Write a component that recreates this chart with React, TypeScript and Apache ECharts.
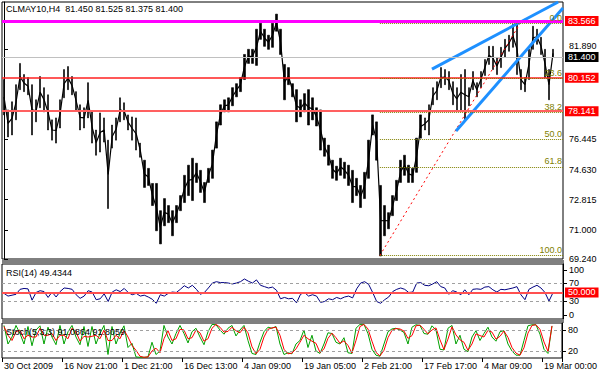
import React, { useEffect, useRef } from 'react';
import * as echarts from 'echarts';

const FONT = "'Liberation Sans', Arial, sans-serif";

// ---------- data ----------
const timeLabels = ['30 Oct 2009', '16 Nov 21:00', '1 Dec 21:00', '16 Dec 13:00', '4 Jan 09:00',
  '19 Jan 05:00', '2 Feb 21:00', '17 Feb 17:00', '4 Mar 09:00', '19 Mar 00:00'];
const LABEL_STEP = 15;
const SLOTS = 140;

const highs = [
  80.05, 78.22, 78.71, 79.74, 81.02, 80.35, 80.17, 79.74, 78.83, 80.23,
  79.56, 79.13, 77.62, 77.74, 78.83, 80.65, 80.83, 80.23, 79.32, 78.53,
  78.35, 79.86, 78.10, 77.01, 78.04, 77.74, 76.40, 77.31, 77.74, 78.95,
  78.65, 77.92, 77.80, 77.74, 76.22, 75.19, 74.70, 73.79, 73.79, 72.15,
  72.88, 72.46, 72.15, 72.46, 73.06, 74.28, 74.89, 75.31, 75.01, 74.58,
  73.85, 74.70, 75.80, 77.50, 78.53, 78.83, 78.95, 79.56, 79.80, 80.17,
  81.56, 81.87, 81.87, 83.08, 83.44, 83.08, 82.72, 83.44, 83.99, 83.08,
  80.96, 80.77, 79.80, 79.44, 78.83, 79.20, 79.44, 78.95, 78.35, 78.22,
  76.52, 76.10, 75.19, 74.83, 75.31, 75.07, 74.89, 74.58, 74.10, 73.67,
  74.46, 76.40, 77.92, 77.50, 73.67, 72.46, 72.03, 73.06, 73.98, 75.19,
  75.49, 74.89, 74.70, 76.52, 77.92, 77.74, 78.53, 79.56, 79.92, 80.77,
  80.65, 80.53, 79.92, 79.56, 80.35, 80.65, 79.56, 80.53, 79.86, 80.53,
  81.26, 82.05, 82.05, 81.38, 81.99, 82.47, 82.72, 83.38, 83.44, 80.65,
  80.17, 81.87, 83.26, 83.08, 82.59, 81.87, 80.65, 81.87,
];
const lows = [
  77.92, 76.59, 76.71, 77.62, 79.44, 79.32, 79.13, 76.71, 77.50, 78.35,
  78.10, 77.01, 76.40, 76.22, 77.13, 78.95, 79.44, 79.13, 78.22, 77.01,
  77.13, 77.74, 76.22, 75.49, 75.68, 76.28, 72.28, 75.92, 76.40, 77.50,
  77.62, 77.01, 76.40, 75.80, 75.37, 73.55, 73.67, 72.46, 70.94, 70.15,
  71.24, 71.43, 70.64, 71.43, 72.15, 72.64, 73.06, 72.76, 73.85, 73.25,
  72.64, 73.85, 74.10, 75.92, 77.31, 78.10, 78.10, 78.47, 79.01, 79.32,
  80.05, 81.02, 81.02, 80.90, 82.47, 82.05, 81.87, 81.99, 82.96, 81.56,
  78.83, 79.74, 79.01, 77.50, 77.80, 78.10, 77.31, 77.62, 77.25, 75.80,
  75.43, 74.89, 74.10, 73.98, 74.28, 74.10, 73.67, 72.64, 73.06, 72.34,
  72.88, 74.10, 76.71, 75.19, 69.42, 70.64, 71.06, 71.85, 72.76, 73.85,
  74.28, 73.85, 73.85, 74.46, 76.52, 77.01, 76.71, 78.53, 78.83, 79.56,
  79.74, 79.44, 78.53, 78.22, 78.22, 77.62, 78.47, 79.44, 79.01, 79.56,
  80.29, 80.96, 80.65, 80.35, 80.77, 81.38, 81.75, 81.99, 80.35, 79.44,
  79.32, 80.05, 81.87, 82.17, 81.56, 80.17, 78.83, 81.38,
];

const rsi = [
  48, 42, 44, 46, 57, 59, 58, 33, 50, 54,
  52, 39, 51, 40, 52, 60, 59, 57, 45, 37,
  42, 54, 51, 34, 36, 47, 30, 51, 56, 52,
  59, 50, 45, 48, 42, 44, 40, 35, 26, 45,
  42, 48, 51, 50, 57, 65, 60, 66, 57, 46,
  50, 60, 71, 74, 72, 72, 71, 69, 71, 74,
  80, 75, 71, 78, 66, 63, 60, 62, 55, 36,
  39, 36, 37, 27, 46, 50, 42, 45, 42, 28,
  30, 36, 34, 39, 36, 40, 42, 38, 58, 71,
  74, 68, 50, 30, 26, 34, 40, 52, 57, 60,
  57, 50, 51, 71, 72, 66, 65, 69, 74, 63,
  60, 46, 54, 51, 45, 56, 45, 57, 58, 57,
  62, 63, 56, 51, 57, 56, 58, 60, 63, 45,
  34, 57, 62, 66, 60, 50, 31, 49.43,
];

const stochMain = [
  93, 40, 60, 93, 70, 40, 90, 35, 80, 92,
  40, 88, 60, 38, 93, 40, 75, 93, 60, 38,
  90, 33, 90, 40, 70, 93, 10, 90, 40, 70,
  92, 30, 42, 3, 2, 2, 3, 45, 10, 20,
  93, 60, 40, 70, 93, 70, 43, 75, 85, 60,
  38, 75, 96, 95, 80, 68, 85, 93, 63, 80,
  93, 50, 13, 10, 45, 75, 88, 85, 90, 40,
  10, 15, 12, 40, 50, 80, 30, 65, 20, 13,
  40, 72, 70, 45, 40, 58, 15, 13, 85, 96,
  96, 70, 25, 8, 5, 40, 75, 83, 85, 80,
  73, 40, 88, 95, 93, 70, 68, 92, 80, 25,
  23, 85, 93, 40, 65, 25, 18, 60, 78, 50,
  70, 88, 60, 48, 75, 78, 40, 20, 8, 8,
  50, 92, 95, 95, 68, 25, 13, 91.09,
];
const stochSignal = [
  90, 65, 50, 75, 80, 55, 65, 60, 60, 85,
  65, 65, 70, 50, 65, 65, 55, 85, 75, 48,
  62, 60, 62, 65, 55, 80, 50, 50, 65, 55,
  80, 60, 36, 22, 5, 2, 3, 20, 28, 15,
  55, 78, 50, 55, 82, 80, 55, 58, 80, 72,
  48, 55, 85, 96, 88, 74, 76, 88, 78, 72,
  88, 72, 32, 12, 25, 60, 82, 86, 88, 65,
  25, 12, 14, 26, 45, 65, 55, 48, 42, 16,
  26, 56, 71, 58, 42, 49, 36, 14, 50, 90,
  96, 83, 48, 16, 6, 22, 58, 79, 84, 83,
  77, 56, 64, 92, 94, 82, 69, 80, 86, 52,
  24, 54, 89, 66, 52, 45, 22, 40, 69, 64,
  60, 79, 74, 54, 62, 77, 59, 30, 14, 8,
  29, 71, 93, 95, 82, 46, 19, 91.81,
];

const priceTicks = [69.24, 71.0, 72.815, 74.63, 76.445, 81.89];
const rsiTicks = [0, 30, 70, 100];
const stochTicks = [20, 80, 100];

const resistanceLevel = 83.566;
const bidLevel = 81.4;
const supportUpper = 80.152;
const supportLower = 78.141;

const fibHigh = 83.43;
const fibLow = 69.45;
const fibRatios = [0, 23.6, 38.2, 50, 61.8, 100];
const fibStartBar = 93.8;
const fibHighBar = 128.8;

const upperTrend = [[106.8, 80.68], [138.3, 84.72]];
const lowerTrend = [[112.8, 76.95], [139.5, 84.36]];

// ---------- option ----------
const categories = Array.from({ length: SLOTS }, (_, i) => String(i));
const labelAt = (i: number) => (i % LABEL_STEP === 0 ? timeLabels[i / LABEL_STEP] || '' : '');

const boxLabel = (text: string, bg: string) => ({
  show: true, position: 'end', formatter: text, backgroundColor: bg, color: '#fff',
  padding: [1, 3, 0, 3], fontSize: 9, fontFamily: FONT, distance: 2,
});

const GRID_LEFT = 2;
const GRID_W = 561;

const option: any = {
  animation: false,
  backgroundColor: '#fff',
  textStyle: { fontFamily: FONT },
  title: [
    { text: 'CLMAY10,H4  81.450 81.525 81.375 81.400', left: 6, top: 4, padding: 0,
      textStyle: { fontSize: 9, fontWeight: 'normal', color: '#000', fontFamily: FONT } },
    { text: 'RSI(14) 49.4344', left: 6, top: 268, padding: 0,
      textStyle: { fontSize: 9, fontWeight: 'normal', color: '#000', fontFamily: FONT } },
    { text: 'Stoch(5,3,3) 91.0864 91.8059', left: 6, top: 327, padding: 0,
      textStyle: { fontSize: 9, fontWeight: 'normal', color: '#000', fontFamily: FONT } },
  ],
  grid: [
    { left: GRID_LEFT, top: 2, width: GRID_W, height: 257, show: true, borderColor: '#000', borderWidth: 1 },
    { left: GRID_LEFT, top: 264, width: GRID_W, height: 55, show: true, borderColor: '#000', borderWidth: 1 },
    { left: GRID_LEFT, top: 323, width: GRID_W, height: 35, show: true, borderColor: '#000', borderWidth: 1 },
  ],
  graphic: [
    { type: 'rect', shape: { x: GRID_LEFT, y: 260, width: GRID_W + 1, height: 4 }, style: { fill: '#808080' }, silent: true },
    { type: 'rect', shape: { x: GRID_LEFT, y: 319.5, width: GRID_W + 1, height: 3.5 }, style: { fill: '#808080' }, silent: true },
  ],
  xAxis: [
    { type: 'category', gridIndex: 0, data: categories, boundaryGap: true, show: false },
    { type: 'value', gridIndex: 0, min: -0.5, max: SLOTS - 0.5, show: false },
    { type: 'category', gridIndex: 1, data: categories, boundaryGap: true, show: false },
    {
      type: 'category', gridIndex: 2, data: categories, boundaryGap: true,
      axisLine: { show: false },
      axisTick: { show: true, interval: LABEL_STEP - 1, length: 4, lineStyle: { color: '#000' } },
      axisLabel: {
        interval: LABEL_STEP - 1, formatter: (_v: string, i: number) => labelAt(i),
        align: 'left', fontSize: 9, color: '#000', margin: 3, fontFamily: FONT,
      },
    },
  ],
  yAxis: [
    {
      type: 'value', gridIndex: 0, position: 'right', min: 69.24, max: 84.72, scale: true,
      splitLine: { show: false },
      axisLine: { show: true, lineStyle: { color: '#000' } },
      axisTick: { show: true, length: 4, customValues: priceTicks, lineStyle: { color: '#000' } },
      axisLabel: {
        customValues: priceTicks,
        formatter: (v: number) => (v > 81 ? '{up|' + v.toFixed(3) + '}' : v.toFixed(3)),
        rich: { up: { fontSize: 9, color: '#000', padding: [0, 0, 5, 0], fontFamily: FONT } },
        fontSize: 9, color: '#000', margin: 6, fontFamily: FONT,
      },
    },
    {
      type: 'value', gridIndex: 1, position: 'right', min: -8.9, max: 113.3,
      splitLine: { show: false },
      axisLine: { show: true, lineStyle: { color: '#000' } },
      axisTick: { show: true, length: 4, customValues: rsiTicks, lineStyle: { color: '#000' } },
      axisLabel: { customValues: rsiTicks, formatter: (v: number) => String(v), fontSize: 9, color: '#000', margin: 6, fontFamily: FONT },
    },
    {
      type: 'value', gridIndex: 2, position: 'right', min: 0, max: 100,
      splitLine: { show: false },
      axisLine: { show: true, lineStyle: { color: '#000' } },
      axisTick: { show: true, length: 4, customValues: stochTicks, lineStyle: { color: '#000' } },
      axisLabel: { customValues: stochTicks, formatter: (v: number) => String(v), fontSize: 9, color: '#000', margin: 6, fontFamily: FONT },
    },
  ],
  series: [
    {
      type: 'line', xAxisIndex: 0, yAxisIndex: 0, symbol: 'none', z: 2,
      data: highs.map((h, i) => (h + lows[i]) / 2),
      lineStyle: { color: '#000', width: 1.2 },
    },
    {
      type: 'candlestick', xAxisIndex: 0, yAxisIndex: 0, barWidth: 2, z: 2,
      data: highs.map((h, i) => [lows[i], h, lows[i], h]),
      itemStyle: { color: '#000', color0: '#000', borderColor: '#000', borderColor0: '#000', borderWidth: 0.6 },
      markLine: {
        silent: true, symbol: ['none', 'none'], animation: false,
        data: [
          { yAxis: bidLevel, lineStyle: { color: '#C0C0C0', width: 1, type: 'solid' }, label: boxLabel(bidLevel.toFixed(3), '#000') },
          { yAxis: supportUpper, lineStyle: { color: '#FF2020', width: 1.5, type: 'solid' }, label: boxLabel(supportUpper.toFixed(3), '#FF0000') },
          { yAxis: supportLower, lineStyle: { color: '#FF6060', width: 2, type: 'solid' }, label: boxLabel(supportLower.toFixed(3), '#FF0000') },
          { yAxis: resistanceLevel, lineStyle: { color: '#FF00FF', width: 3, type: 'solid' }, label: boxLabel(resistanceLevel.toFixed(3), '#FF0000') },
        ],
      },
    },
    {
      type: 'line', xAxisIndex: 1, yAxisIndex: 0, symbol: 'none', z: 3,
      data: [[fibStartBar, fibLow], [fibHighBar, fibHigh]],
      lineStyle: { color: '#FF0000', width: 1, type: [2, 3] },
      markLine: {
        silent: true, symbol: ['none', 'none'], animation: false,
        lineStyle: { color: '#808000', width: 1, type: [1, 1] },
        label: { show: true, position: 'insideEndTop', color: '#808000', fontSize: 9, fontFamily: FONT, distance: 1 },
        data: fibRatios.map((r) => {
          const p = fibHigh - (r / 100) * (fibHigh - fibLow);
          return [
            { coord: [fibStartBar, p], label: { formatter: r.toFixed(1) } },
            { coord: [SLOTS - 0.5, p] },
          ];
        }),
      },
    },
    {
      type: 'line', xAxisIndex: 1, yAxisIndex: 0, symbol: 'none', data: upperTrend, z: 4,
      lineStyle: { color: '#1E90FF', width: 3 },
    },
    {
      type: 'line', xAxisIndex: 1, yAxisIndex: 0, symbol: 'none', data: lowerTrend, z: 4,
      lineStyle: { color: '#1E90FF', width: 3 },
    },
    {
      type: 'line', xAxisIndex: 2, yAxisIndex: 1, symbol: 'none', data: rsi,
      lineStyle: { color: '#000080', width: 1 },
      markLine: {
        silent: true, symbol: ['none', 'none'], animation: false,
        data: [
          { yAxis: 70, lineStyle: { color: '#A0A0A0', width: 1, type: [3, 3] }, label: { show: false } },
          { yAxis: 30, lineStyle: { color: '#A0A0A0', width: 1, type: [3, 3] }, label: { show: false } },
          { yAxis: 50, lineStyle: { color: '#FF5050', width: 2, type: 'solid' }, label: boxLabel('50.000', '#FF0000') },
        ],
      },
    },
    {
      type: 'line', xAxisIndex: 3, yAxisIndex: 2, symbol: 'none', data: stochMain,
      lineStyle: { color: '#00A000', width: 1 },
      markLine: {
        silent: true, symbol: ['none', 'none'], animation: false,
        data: [
          { yAxis: 80, lineStyle: { color: '#A0A0A0', width: 1, type: [3, 3] }, label: { show: false } },
          { yAxis: 20, lineStyle: { color: '#A0A0A0', width: 1, type: [3, 3] }, label: { show: false } },
        ],
      },
    },
    {
      type: 'line', xAxisIndex: 3, yAxisIndex: 2, symbol: 'none', data: stochSignal,
      lineStyle: { color: '#FF0000', width: 1 },
    },
  ],
};

export default function App() {
  const ref = useRef<HTMLDivElement>(null);
  useEffect(() => {
    const chart = echarts.init(ref.current!, undefined, { renderer: 'svg' });
    chart.setOption(option);
    return () => chart.dispose();
  }, []);
  return <div ref={ref} style={{ width: 600, height: 375, position: 'absolute', left: 0, top: 0 }} />;
}
